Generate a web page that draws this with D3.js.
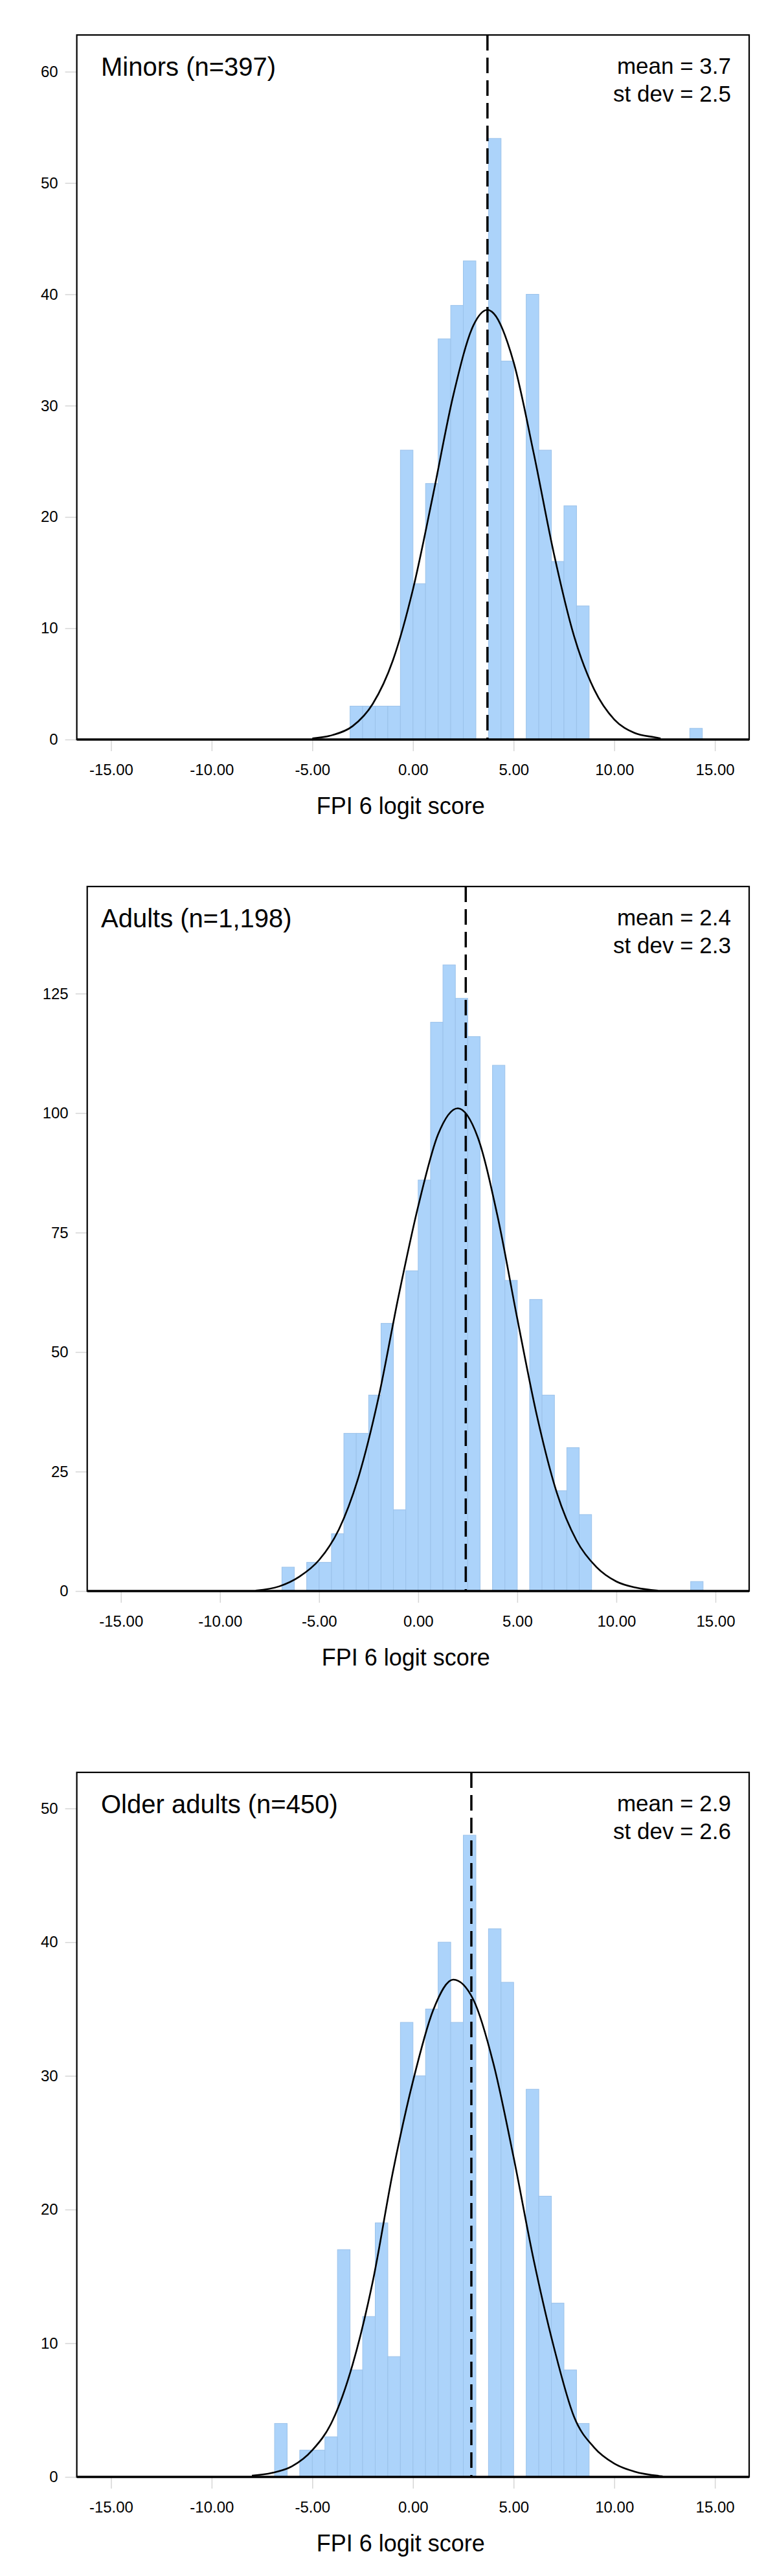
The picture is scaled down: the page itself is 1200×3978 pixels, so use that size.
<!DOCTYPE html>
<html>
<head>
<meta charset="utf-8">
<script src="https://cdn.jsdelivr.net/npm/d3@7"></script>
<style>
  html, body { margin: 0; padding: 0; background: #ffffff; }
  svg { display: block; }
  text { font-family: "Liberation Sans", Arial, Helvetica, sans-serif; fill: #000; }
</style>
</head>
<body>
<svg id="chart" width="1200" height="3978"></svg>
<script>
// ---------------- DATA ----------------
const panelLabels = ["Minors (n=397)", "Adults (n=1,198)", "Older adults (n=450)"];
const meanValues = [3.7, 2.4, 2.9];
const sdValues = [2.5, 2.3, 2.6];

const binWidth = 0.625;
const binStarts = [-6.875, -6.25, -5.625, -5, -4.375, -3.75, -3.125, -2.5, -1.875, -1.25, -0.625,
  0, 0.625, 1.25, 1.875, 2.5, 3.125, 3.75, 4.375, 5, 5.625, 6.25, 6.875, 7.5, 8.125, 8.75,
  9.375, 10, 10.625, 11.25, 11.875, 12.5, 13.125, 13.75];

const minorsCounts = [0, 0, 0, 0, 0, 0, 3, 3, 3, 3, 26,
  14, 23, 36, 39, 43, 0, 54, 34, 0, 40, 26, 16, 21, 12, 0,
  0, 0, 0, 0, 0, 0, 0, 1];
const adultsCounts = [5, 0, 6, 6, 12, 33, 33, 41, 56, 17, 67,
  86, 119, 131, 124, 116, 0, 110, 65, 0, 61, 41, 21, 30, 16, 0,
  0, 0, 0, 0, 0, 0, 0, 2];
const olderCounts = [4, 0, 2, 2, 3, 17, 8, 12, 19, 9, 34,
  30, 35, 40, 34, 48, 0, 41, 37, 0, 29, 21, 13, 8, 4, 0,
  0, 0, 0, 0, 0, 0, 0, 0];

// normal-curve overlay
const minorsCurveX = [-5, -4, -3, -2, -1, 0, 1, 2, 3, 3.7, 4, 5, 6, 7, 8, 9, 10, 11, 12, 12.3];
const minorsCurveY = [0.1, 0.4, 1.2, 3.2, 7.1, 13.5, 22.0, 30.9, 37.2, 38.6, 38.3, 33.9, 25.7, 16.7, 9.3, 4.5, 1.8, 0.6, 0.2, 0.1];
const adultsCurveX = [-8.2, -7, -6, -5, -4, -3, -2, -1, 0, 1, 2, 3, 4, 5, 6, 7, 8, 9, 10, 11, 12.1];
const adultsCurveY = [0.1, 1.0, 3.0, 6.5, 12.9, 24, 40.5, 61.5, 80.5, 95.5, 101, 95, 78.5, 57, 36.5, 20.5, 10.5, 5.0, 2.0, 0.7, 0.1];
const olderCurveX = [-8, -7, -6, -5, -4, -3, -2, -1, 0, 1, 2, 3, 4, 5, 6, 7, 8, 9, 10, 11, 12.4];
const olderCurveY = [0.1, 0.3, 0.8, 2.0, 4.2, 8.4, 14.6, 22.8, 29.6, 34.9, 37.2, 35.7, 30.9, 23.9, 16.2, 9.7, 4.5, 2.2, 1.0, 0.4, 0.05];

const xTickValues = [-15, -10, -5, 0, 5, 10, 15];
const xTickLabels = ["-15.00", "-10.00", "-5.00", "0.00", "5.00", "10.00", "15.00"];
const minorsYTicks = [0, 10, 20, 30, 40, 50, 60];
const adultsYTicks = [0, 25, 50, 75, 100, 125];
const olderYTicks = [0, 10, 20, 30, 40, 50];
const xAxisTitle = "FPI 6 logit score";

// ---------------- LAYOUT ----------------
const panels = [
  { label: panelLabels[0], mean: meanValues[0], sd: sdValues[0], counts: minorsCounts,
    cx: minorsCurveX, cy: minorsCurveY, yTicks: minorsYTicks, yMax: 63.3, top: 54, left: 118.6 },
  { label: panelLabels[1], mean: meanValues[1], sd: sdValues[1], counts: adultsCounts,
    cx: adultsCurveX, cy: adultsCurveY, yTicks: adultsYTicks, yMax: 147.4, top: 1369, left: 134.7 },
  { label: panelLabels[2], mean: meanValues[2], sd: sdValues[2], counts: olderCounts,
    cx: olderCurveX, cy: olderCurveY, yTicks: olderYTicks, yMax: 52.7, top: 2737, left: 118.6 }
];
const frameRight = 1157;
const frameHeight = 1088;
const xDomain = [-16.7, 16.7];

const svg = d3.select("#chart");

panels.forEach(p => {
  const bottom = p.top + frameHeight;
  const x = d3.scaleLinear().domain(xDomain).range([p.left, frameRight]);
  const y = d3.scaleLinear().domain([0, p.yMax]).range([bottom, p.top]);
  const g = svg.append("g");

  // x axis (ticks below the frame, light grey)
  const xAxis = d3.axisBottom(x).tickValues(xTickValues)
    .tickFormat((d, i) => xTickLabels[i]).tickSize(18).tickPadding(20);
  const gx = g.append("g").attr("transform", `translate(0,${bottom})`).call(xAxis);
  gx.select(".domain").remove();
  gx.selectAll(".tick line").attr("stroke", "#d6d6d6").attr("stroke-width", 1.5);
  gx.selectAll(".tick text").attr("font-size", 24).attr("fill", "#000")
    .attr("font-family", "'Liberation Sans', Arial, sans-serif");

  // y axis
  const yAxis = d3.axisLeft(y).tickValues(p.yTicks).tickSize(18).tickPadding(11);
  const gy = g.append("g").attr("transform", `translate(${p.left},0)`).call(yAxis);
  gy.select(".domain").remove();
  gy.selectAll(".tick line").attr("stroke", "#d6d6d6").attr("stroke-width", 1.5);
  gy.selectAll(".tick text").attr("font-size", 24).attr("fill", "#000")
    .attr("font-family", "'Liberation Sans', Arial, sans-serif");

  // bars
  const bins = binStarts.map((s, i) => ({ start: s, count: p.counts[i] })).filter(d => d.count > 0);
  g.append("g").selectAll("rect").data(bins).join("rect")
    .attr("x", d => x(d.start))
    .attr("width", d => x(d.start + binWidth) - x(d.start))
    .attr("y", d => y(d.count))
    .attr("height", d => bottom - y(d.count))
    .attr("fill", "#acd3fa")
    .attr("stroke", "#9bc2ea")
    .attr("stroke-width", 1);

  // normal curve
  const pts = p.cx.map((v, i) => [v, p.cy[i]]);
  const line = d3.line().x(d => x(d[0])).y(d => y(d[1])).curve(d3.curveMonotoneX);
  g.append("path").datum(pts).attr("d", line)
    .attr("fill", "none").attr("stroke", "#000").attr("stroke-width", 2.6)
    .attr("stroke-linejoin", "round");

  // mean dashed line
  g.append("line")
    .attr("x1", x(p.mean)).attr("x2", x(p.mean))
    .attr("y1", p.top).attr("y2", bottom)
    .attr("stroke", "#000").attr("stroke-width", 3.5)
    .attr("stroke-dasharray", "24,11");

  // frame
  g.append("rect")
    .attr("x", p.left).attr("y", p.top)
    .attr("width", frameRight - p.left).attr("height", frameHeight)
    .attr("fill", "none").attr("stroke", "#000").attr("stroke-width", 2.2);
  g.append("line")
    .attr("x1", p.left).attr("x2", frameRight)
    .attr("y1", bottom).attr("y2", bottom)
    .attr("stroke", "#000").attr("stroke-width", 3.4);

  // texts
  g.append("text").attr("x", 156).attr("y", p.top + 63)
    .attr("font-size", 40).text(p.label);
  g.append("text").attr("x", 1129).attr("y", p.top + 60)
    .attr("text-anchor", "end").attr("font-size", 35).text(`mean = ${p.mean}`);
  g.append("text").attr("x", 1129).attr("y", p.top + 103)
    .attr("text-anchor", "end").attr("font-size", 35).text(`st dev = ${p.sd}`);
  g.append("text").attr("x", (p.left + frameRight) / 2 - 19).attr("y", bottom + 115)
    .attr("text-anchor", "middle").attr("font-size", 36).text(xAxisTitle);
});
</script>
</body>
</html>
